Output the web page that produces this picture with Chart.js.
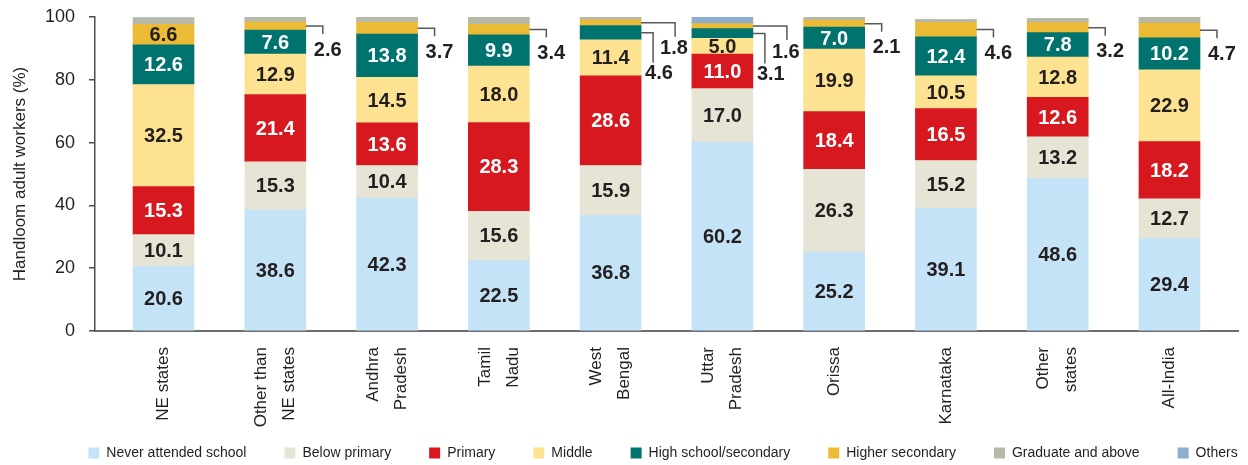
<!DOCTYPE html>
<html lang="en">
<head>
    <meta charset="UTF-8">
    <title>Handloom adult workers by education</title>
    <script src="https://cdn.jsdelivr.net/npm/chart.js"></script>
    <style>
        body { margin: 0; background: #fff; }
    </style>
</head>
<body>
    <canvas id="grafico" width="1248" height="465"></canvas>

    <script>
        // Categories (x axis), multi-line labels as arrays
        const categories = [
            ['NE states'], ['Other than', 'NE states'], ['Andhra', 'Pradesh'], ['Tamil', 'Nadu'],
            ['West', 'Bengal'], ['Uttar', 'Pradesh'], ['Orissa'], ['Karnataka'], ['Other', 'states'], ['All-India']
        ];

        // Share of adult workers (%) by education level, bottom to top
        const neverAttended   = [20.6, 38.6, 42.3, 22.5, 36.8, 60.2, 25.2, 39.1, 48.6, 29.4];
        const belowPrimary    = [10.1, 15.3, 10.4, 15.6, 15.9, 17.0, 26.3, 15.2, 13.2, 12.7];
        const primary         = [15.3, 21.4, 13.6, 28.3, 28.6, 11.0, 18.4, 16.5, 12.6, 18.2];
        const middle          = [32.5, 12.9, 14.5, 18.0, 11.4, 5.0, 19.9, 10.5, 12.8, 22.9];
        const highSchool      = [12.6, 7.6, 13.8, 9.9, 4.6, 3.1, 7.0, 12.4, 7.8, 10.2];
        const higherSecondary = [6.6, 2.6, 3.7, 3.4, 1.8, 1.6, 2.1, 4.6, 3.2, 4.7];
        const graduate        = [2.0, 1.6, 1.7, 2.3, 0.9, 0.0, 1.1, 0.9, 1.4, 1.9];
        const others          = [0, 0, 0, 0, 0, 2.1, 0, 0, 0, 0];

        const yTicks = [0, 20, 40, 60, 80, 100];

        const series = [
            { label: 'Never attended school', data: neverAttended, color: '#c5e3f6', text: '#231f20' },
            { label: 'Below primary', data: belowPrimary, color: '#e6e5d5', text: '#231f20' },
            { label: 'Primary', data: primary, color: '#d7191f', text: '#ffffff' },
            { label: 'Middle', data: middle, color: '#fde291', text: '#231f20' },
            { label: 'High school/secondary', data: highSchool, color: '#00736f', text: '#ffffff' },
            { label: 'Higher secondary', data: higherSecondary, color: '#ecbb35', text: '#231f20' },
            { label: 'Graduate and above', data: graduate, color: '#b6b9a8', text: null },
            { label: 'Others', data: others, color: '#8fadd0', text: null }
        ];

        const oscuro = '#231f20';
        const sans = "'Liberation Sans', Arial, sans-serif";
        const bold = "bold 20px 'Liberation Sans', Arial, sans-serif";
        const pasoLinea = 28; // distance between the two lines of an x label

        // Value labels inside the bars, small ones pulled out with a leader line
        const etiquetas = {
            id: 'etiquetas',
            afterDatasetsDraw(chart) {
                const ctx = chart.ctx;
                ctx.save();
                ctx.font = bold;
                ctx.textBaseline = 'middle';
                ctx.strokeStyle = '#58595b';
                ctx.lineWidth = 1.5;

                categories.forEach((cat, i) => {
                    const pequenos = [];
                    series.forEach((s, d) => {
                        if (!s.text) return;
                        const bar = chart.getDatasetMeta(d).data[i];
                        const v = s.data[i];
                        const mid = (bar.y + bar.base) / 2;
                        if (v >= 5) {
                            ctx.fillStyle = s.text;
                            ctx.textAlign = 'center';
                            ctx.fillText(v.toFixed(1), bar.x, mid + 1);
                        } else {
                            pequenos.push({ v, mid, right: bar.x + bar.width / 2 });
                        }
                    });

                    ctx.fillStyle = oscuro;
                    ctx.textAlign = 'left';
                    pequenos.forEach((p, k) => {
                        let largo = 17, caida = 8, dx = 8, dy = 24;
                        if (pequenos.length > 1) {
                            if (k === pequenos.length - 1) { largo = 34; caida = 14; dx = 19; dy = 26; }
                            else { largo = 12; caida = 30; dx = 4; dy = 41; }
                        }
                        ctx.beginPath();
                        ctx.moveTo(p.right, p.mid);
                        ctx.lineTo(p.right + largo, p.mid);
                        ctx.lineTo(p.right + largo, p.mid + caida);
                        ctx.stroke();
                        ctx.fillText(p.v.toFixed(1), p.right + dx, p.mid + dy);
                    });
                });
                ctx.restore();
            }
        };

        // the legend sits a bit higher and to the right of where Chart.js puts it
        const moverLeyenda = {
            id: 'moverLeyenda',
            afterLayout(chart) {
                const l = chart.legend;
                l.top -= 23; l.bottom -= 23;
                l.left += 44; l.right += 44;
            }
        };

        new Chart(document.getElementById('grafico'), {
            type: 'bar',
            data: {
                datasets: series.map(s => ({
                    label: s.label,
                    data: s.data.map((v, i) => ({ x: i, y: v })),
                    backgroundColor: s.color,
                    borderWidth: 0,
                    barThickness: 61
                }))
            },
            options: {
                responsive: false,
                animation: false,
                layout: { padding: { top: 17, right: 10, left: 0, bottom: -28 } },
                plugins: {
                    legend: {
                        position: 'bottom',
                        labels: {
                            boxWidth: 11,
                            boxHeight: 11,
                            padding: 38,
                            color: oscuro,
                            font: { family: sans, size: 14 }
                        }
                    },
                    tooltip: { enabled: false }
                },
                scales: {
                    x: {
                        type: 'linear',
                        stacked: true,
                        offset: false,
                        min: -0.613,
                        max: 9.613,
                        afterBuildTicks: scale => {
                            // two-line labels are centred on the bar
                            const unidad = scale.width / (scale.max - scale.min);
                            scale.ticks = categories.map((c, i) => ({
                                value: i - (c.length - 1) * pasoLinea / 2 / (unidad || 112)
                            }));
                        },
                        afterFit: scale => { scale.height = 100; },
                        grid: { display: false, offset: false },
                        border: { color: '#6d6e71', width: 2 },
                        ticks: {
                            autoSkip: false,
                            minRotation: 90,
                            maxRotation: 90,
                            padding: 8,
                            color: oscuro,
                            font: { family: sans, size: 17, lineHeight: pasoLinea / 17 },
                            callback: (value, index) => categories[index]
                        }
                    },
                    y: {
                        stacked: true,
                        min: 0,
                        max: 100,
                        afterBuildTicks: scale => {
                            scale.ticks = yTicks.map(v => ({ value: v }));
                        },
                        afterFit: scale => {
                            scale.width = 95;
                            scale.paddingTop = 10;
                            scale.paddingBottom = 10;
                        },
                        grid: { drawOnChartArea: false, tickLength: 6, color: '#4d4d4f', lineWidth: 1.5 },
                        border: { color: '#4d4d4f', width: 1.5 },
                        ticks: {
                            padding: 14,
                            color: oscuro,
                            font: { family: sans, size: 18 }
                        },
                        title: {
                            display: true,
                            text: 'Handloom adult workers (%)',
                            color: oscuro,
                            padding: { top: 10, bottom: 0 },
                            font: { family: sans, size: 17 }
                        }
                    }
                }
            },
            plugins: [etiquetas, moverLeyenda]
        });
    </script>
</body>
</html>
